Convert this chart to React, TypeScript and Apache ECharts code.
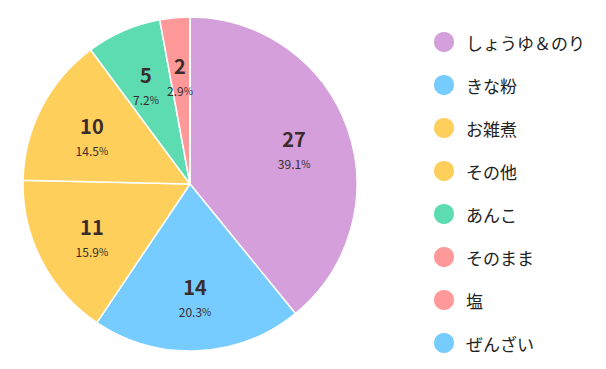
import React, { useEffect, useRef } from "react";
import * as echarts from "echarts";

const categories = ["しょうゆ＆のり", "きな粉", "お雑煮", "その他", "あんこ", "そのまま", "塩", "ぜんざい"];
const values = [27, 14, 11, 10, 5, 2, 0, 0];
const colors = ["#d49fda", "#77ccff", "#ffcf5c", "#ffcf5c", "#5ddcb1", "#ff9999", "#ff9999", "#77ccff"];

const FONT = "'Noto Sans CJK JP', 'Noto Sans', sans-serif";

export default function App() {
  const ref = useRef<HTMLDivElement>(null);
  useEffect(() => {
    if (!ref.current) return;
    const chart = echarts.init(ref.current, undefined, { renderer: "svg" });
    const total = values.reduce((a, b) => a + b, 0);
    const data = categories.map((name, i) => ({
      name,
      value: values[i],
      itemStyle: { color: colors[i] },
    }));
    const labelData = categories
      .map((name, i) => ({ name, value: values[i] }))
      .filter((d) => d.value > 0);
    chart.setOption({
      animation: false,
      legend: {
        orient: "vertical",
        left: 424,
        top: 22,
        bottom: 0,
        padding: 0,
        icon: "circle",
        itemWidth: 22,
        itemHeight: 22,
        itemGap: 19,
        textStyle: { fontSize: 17, color: "#222", fontFamily: FONT, padding: [0, 0, 0, 6] },
        data: categories,
        selectedMode: false,
      },
      series: [
        {
          type: "pie",
          center: [182, 176],
          radius: 167,
          startAngle: 90,
          clockwise: true,
          silent: true,
          label: { show: false },
          labelLine: { show: false },
          itemStyle: { borderColor: "#fff", borderWidth: 1.5 },
          data,
        },
        {
          type: "pie",
          center: [182, 176],
          radius: [48, 167],
          startAngle: 90,
          clockwise: true,
          silent: true,
          legendHoverLink: false,
          itemStyle: { color: "rgba(0,0,0,0)", borderWidth: 0 },
          labelLine: { show: false },
          labelLayout: { dy: 3 },
          label: {
            show: true,
            position: "inside",
            fontFamily: FONT,
            formatter: (p: any) =>
              `{v|${p.value}}\n{p|${((p.value / total) * 100).toFixed(1)}}{s|%}`,
            rich: {
              v: { fontSize: 20, fontWeight: "bold", color: "#3a2c2c", lineHeight: 28, fontFamily: FONT, align: "center" },
              p: { fontSize: 12, color: "#3a2c2c", lineHeight: 22, fontFamily: FONT },
              s: { fontSize: 10, color: "#3a2c2c", lineHeight: 22, fontFamily: FONT },
            },
          },
          data: labelData,
        },
      ],
    });
    return () => chart.dispose();
  }, []);
  return <div ref={ref} style={{ width: 590, height: 353 }} />;
}
